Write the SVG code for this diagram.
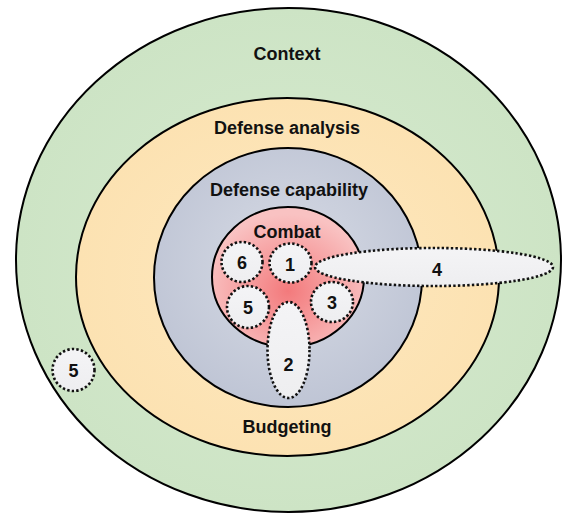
<svg xmlns="http://www.w3.org/2000/svg" width="563" height="515" viewBox="0 0 563 515">
  <defs>
    <radialGradient id="gGreen" cx="50%" cy="50%" r="50%">
      <stop offset="0" stop-color="#d6eacf"/>
      <stop offset="1" stop-color="#cde4c5"/>
    </radialGradient>
    <radialGradient id="gYellow" cx="50%" cy="50%" r="50%">
      <stop offset="0" stop-color="#fee8bf"/>
      <stop offset="1" stop-color="#fce2b2"/>
    </radialGradient>
    <radialGradient id="gGray" cx="50%" cy="45%" r="55%">
      <stop offset="0" stop-color="#d7dbe5"/>
      <stop offset="1" stop-color="#bfc5d5"/>
    </radialGradient>
    <radialGradient id="gRed" cx="50%" cy="60%" r="55%">
      <stop offset="0" stop-color="#f37a7c"/>
      <stop offset="1" stop-color="#f9c2c2"/>
    </radialGradient>
    <linearGradient id="gDot" x1="0" y1="0" x2="0" y2="1">
      <stop offset="0" stop-color="#f4f4f6"/>
      <stop offset="1" stop-color="#eeeef0"/>
    </linearGradient>
  </defs>
  <style>
    .ring { stroke: #000; stroke-width: 2; }
    .lbl { font-family: "Liberation Sans", Arial, sans-serif; font-weight: bold; font-size: 18px; fill: #111; text-anchor: middle; }
    .num { font-family: "Liberation Sans", Arial, sans-serif; font-weight: bold; font-size: 18px; fill: #111; text-anchor: middle; }
    .dot { fill: url(#gDot); stroke: #111; stroke-width: 2.6; stroke-dasharray: 2.4 2.2; }
  </style>
  <rect width="563" height="515" fill="#ffffff"/>

  <g id="context">
    <ellipse class="ring" cx="288.5" cy="260" rx="272.5" ry="252" fill="url(#gGreen)"/>
    <text class="lbl" x="287" y="60">Context</text>
  </g>
  <g id="defense-analysis">
    <ellipse class="ring" cx="287.5" cy="277" rx="211.5" ry="179" fill="url(#gYellow)"/>
    <text class="lbl" x="287" y="134">Defense analysis</text>
    <text class="lbl" x="287" y="433">Budgeting</text>
  </g>
  <g id="defense-capability">
    <ellipse class="ring" cx="288" cy="277.5" rx="134" ry="129.5" fill="url(#gGray)"/>
    <text class="lbl" x="289" y="196">Defense capability</text>
  </g>
  <g id="combat">
    <ellipse class="ring" cx="288" cy="277" rx="76" ry="70" fill="url(#gRed)"/>
    <text class="lbl" x="287" y="238">Combat</text>
  </g>

  <g id="n6">
    <ellipse class="dot" cx="242" cy="262" rx="20.5" ry="20"/>
    <text class="num" x="242" y="268.5">6</text>
  </g>
  <g id="n5-inner">
    <ellipse class="dot" cx="248" cy="307" rx="21" ry="21"/>
    <text class="num" x="248" y="313.5">5</text>
  </g>
  <g id="n3">
    <ellipse class="dot" cx="332" cy="302" rx="21" ry="20"/>
    <text class="num" x="332" y="308.5">3</text>
  </g>
  <g id="n2">
    <ellipse class="dot" cx="288.5" cy="350" rx="21" ry="48"/>
    <text class="num" x="288.5" y="370.5">2</text>
  </g>
  <g id="n1">
    <ellipse class="dot" cx="290.5" cy="263" rx="21" ry="19.5"/>
    <text class="num" x="290" y="271">1</text>
  </g>
  <g id="n4">
    <ellipse class="dot" cx="434" cy="267" rx="119" ry="19"/>
    <text class="num" x="437" y="275.5">4</text>
  </g>
  <g id="n5-outer">
    <circle class="dot" cx="73.5" cy="370" r="21"/>
    <text class="num" x="73.5" y="376.5">5</text>
  </g>
</svg>
